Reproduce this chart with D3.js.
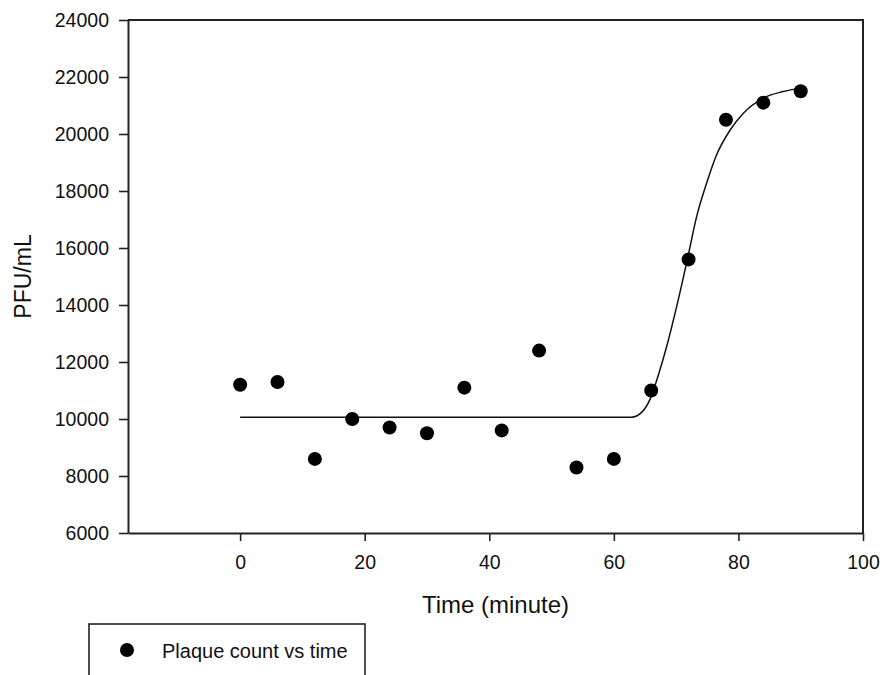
<!DOCTYPE html>
<html>
<head>
<meta charset="utf-8">
<script src="https://cdn.jsdelivr.net/npm/d3@7.9.0/dist/d3.min.js"></script>
<style>
  body { margin: 0; background: #fff; }
  svg { display: block; font-family: "Liberation Sans", Arial, sans-serif; }
</style>
</head>
<body>
<svg id="chart" width="884" height="675"></svg>
<script>
// Plaque counts
const times = [0, 6, 12, 18, 24, 30, 36, 42, 48, 54, 60, 66, 72, 78, 84, 90];
const pfu = [11200, 11300, 8600, 10000, 9700, 9500, 11100, 9600, 12400, 8300, 8600, 11000, 15600, 20500, 21100, 21500];

// Fitted sigmoid curve
const fitTimes = [0, 62.8, 64.5, 65.8, 67.1, 68.5, 70.1, 71.8, 73.3, 74.9, 76.5, 78.7, 80.8, 84.0, 87.2, 90];
const fitPfu = [10060, 10060, 10240, 10690, 11510, 12560, 13960, 15600, 17110, 18280, 19270, 20150, 20730, 21260, 21490, 21610];

// Tick labels
const xTicks = [0, 20, 40, 60, 80, 100];
const yTicks = [6000, 8000, 10000, 12000, 14000, 16000, 18000, 20000, 22000, 24000];

const svg = d3.select('#chart');
const plotLeft = 128, plotRight = 863, plotTop = 20, plotBottom = 533;

const x = d3.scaleLinear().domain([-18, 100]).range([plotLeft, plotRight]);
const y = d3.scaleLinear().domain([6000, 24000]).range([plotBottom, plotTop]);

// Axes
const xAxis = svg.append('g')
  .attr('transform', `translate(0,${plotBottom})`)
  .call(d3.axisBottom(x).tickValues(xTicks).tickSize(8).tickPadding(14).tickSizeOuter(0));

const yAxis = svg.append('g')
  .attr('transform', `translate(${plotLeft},0)`)
  .call(d3.axisLeft(y).tickValues(yTicks).tickSize(9).tickPadding(10).tickSizeOuter(0).tickFormat(d3.format('d')));

[xAxis, yAxis].forEach(a => {
  a.selectAll('text').attr('font-size', 19.5).attr('fill', '#111').attr('font-family', '"Liberation Sans", Arial, sans-serif');
  a.selectAll('line').attr('stroke', '#222').attr('stroke-width', 1.6);
  a.select('.domain').attr('stroke', '#222').attr('stroke-width', 2);
});

// Top and right frame lines
svg.append('path')
  .attr('d', `M${plotLeft},${plotTop}H${plotRight}V${plotBottom}`)
  .attr('fill', 'none')
  .attr('stroke', '#222')
  .attr('stroke-width', 2);

// Fit curve
const line = d3.line()
  .x((d, i) => x(fitTimes[i]))
  .y(d => y(d))
  .curve(d3.curveMonotoneX);

svg.append('path')
  .datum(fitPfu)
  .attr('d', line)
  .attr('fill', 'none')
  .attr('stroke', '#111')
  .attr('stroke-width', 1.5);

// Data points
svg.append('g')
  .selectAll('circle')
  .data(pfu)
  .join('circle')
  .attr('cx', (d, i) => x(times[i]))
  .attr('cy', d => y(d))
  .attr('r', 7)
  .attr('fill', '#000');

// Axis titles
svg.append('text')
  .attr('x', (plotLeft + plotRight) / 2)
  .attr('y', 613)
  .attr('text-anchor', 'middle')
  .attr('font-size', 24)
  .attr('fill', '#111')
  .text('Time (minute)');

svg.append('text')
  .attr('transform', `translate(31,${(plotTop + plotBottom) / 2}) rotate(-90)`)
  .attr('text-anchor', 'middle')
  .attr('font-size', 23)
  .attr('fill', '#111')
  .text('PFU/mL');

// Legend box (runs off the bottom like the original)
svg.append('rect')
  .attr('x', 89)
  .attr('y', 624)
  .attr('width', 276)
  .attr('height', 80)
  .attr('fill', 'none')
  .attr('stroke', '#222')
  .attr('stroke-width', 1.6);

svg.append('circle')
  .attr('cx', 127)
  .attr('cy', 650)
  .attr('r', 7)
  .attr('fill', '#000');

svg.append('text')
  .attr('x', 162)
  .attr('y', 658)
  .attr('font-size', 20)
  .attr('fill', '#111')
  .text('Plaque count vs time');
</script>
</body>
</html>
